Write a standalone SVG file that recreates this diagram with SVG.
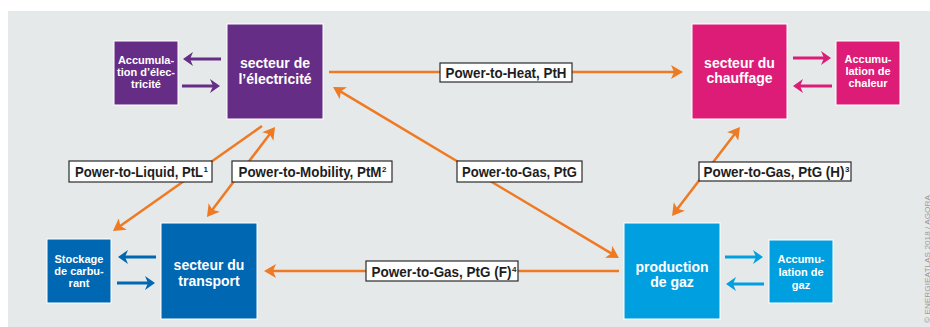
<svg xmlns="http://www.w3.org/2000/svg" width="930" height="327" viewBox="0 0 930 327">
<style>
.node{stroke:#fff;stroke-width:1}
.nt{font-family:"Liberation Sans",Arial,sans-serif;font-weight:bold;fill:#fff;text-anchor:middle}
.big{font-size:14px}
.small{font-size:11px}
.lbl rect{fill:#fff;stroke:#2a2a2a;stroke-width:1.2}
.lbl text{font-family:"Liberation Sans",Arial,sans-serif;font-weight:bold;font-size:15.5px;fill:#1e1e1e;text-anchor:middle}
.lbl text.sup{font-size:8px;text-anchor:start}
.o{stroke:#ef7a24;stroke-width:2.5;fill:none}
.sa{stroke-width:3;fill:none}
</style>
<defs>
<marker id="mo" viewBox="0 0 12 14" refX="4" refY="7" markerWidth="12" markerHeight="14" markerUnits="userSpaceOnUse" orient="auto-start-reverse"><path d="M0,0 L12,7 L0,14 L3,7 z" fill="#ef7a24"/></marker>
<marker id="mp" viewBox="0 0 10 14" refX="4" refY="7" markerWidth="10" markerHeight="14" markerUnits="userSpaceOnUse" orient="auto"><path d="M0,0 L10,7 L0,14 L3,7 z" fill="#662d86"/></marker>
<marker id="mm" viewBox="0 0 10 14" refX="4" refY="7" markerWidth="10" markerHeight="14" markerUnits="userSpaceOnUse" orient="auto"><path d="M0,0 L10,7 L0,14 L3,7 z" fill="#dc1c77"/></marker>
<marker id="mb" viewBox="0 0 10 14" refX="4" refY="7" markerWidth="10" markerHeight="14" markerUnits="userSpaceOnUse" orient="auto"><path d="M0,0 L10,7 L0,14 L3,7 z" fill="#0067b2"/></marker>
<marker id="mc" viewBox="0 0 10 14" refX="4" refY="7" markerWidth="10" markerHeight="14" markerUnits="userSpaceOnUse" orient="auto"><path d="M0,0 L10,7 L0,14 L3,7 z" fill="#009fe0"/></marker>
</defs>
<rect x="0" y="0" width="930" height="327" fill="#fff"/>
<rect x="8" y="11" width="922" height="316" fill="#e6e9ea"/>

<g id="connectors">
<line class="sa" stroke="#662d86" x1="221" y1="59" x2="189" y2="59" marker-end="url(#mp)"/>
<line class="sa" stroke="#662d86" x1="182" y1="86" x2="214" y2="86" marker-end="url(#mp)"/>
<line class="sa" stroke="#dc1c77" x1="793" y1="58" x2="825" y2="58" marker-end="url(#mm)"/>
<line class="sa" stroke="#dc1c77" x1="832" y1="86" x2="799" y2="86" marker-end="url(#mm)"/>
<line class="sa" stroke="#0067b2" x1="156" y1="257" x2="124" y2="257" marker-end="url(#mb)"/>
<line class="sa" stroke="#0067b2" x1="117" y1="283" x2="149" y2="283" marker-end="url(#mb)"/>
<line class="sa" stroke="#009fe0" x1="725" y1="257" x2="757" y2="257" marker-end="url(#mc)"/>
<line class="sa" stroke="#009fe0" x1="764" y1="284" x2="732" y2="284" marker-end="url(#mc)"/>

<line class="o" x1="329" y1="72" x2="675" y2="72" marker-end="url(#mo)"/>
<line class="o" x1="339.9" y1="91.1" x2="612.1" y2="253.9" marker-start="url(#mo)" marker-end="url(#mo)"/>
<line class="o" x1="262" y1="126" x2="119.5" y2="226.4" marker-end="url(#mo)"/>
<line class="o" x1="270.2" y1="133.4" x2="211.8" y2="210.6" marker-start="url(#mo)" marker-end="url(#mo)"/>
<line class="o" x1="619" y1="271" x2="272" y2="271" marker-end="url(#mo)"/>
<line class="o" x1="676.9" y1="209.6" x2="735.1" y2="133.4" marker-start="url(#mo)" marker-end="url(#mo)"/>
</g>

<g id="lbl-pth" class="lbl"><rect x="440" y="63" width="132" height="19"/><text x="506" y="78" textLength="121" lengthAdjust="spacingAndGlyphs">Power-to-Heat, PtH</text></g>
<g id="lbl-ptg" class="lbl"><rect x="457" y="161" width="125" height="21"/><text x="519.5" y="177" textLength="115" lengthAdjust="spacingAndGlyphs">Power-to-Gas, PtG</text></g>
<g id="lbl-ptl" class="lbl"><rect x="69" y="161" width="143" height="21"/><text x="139" y="177" textLength="128" lengthAdjust="spacingAndGlyphs">Power-to-Liquid, PtL</text><text class="sup" x="203.5" y="172">1</text></g>
<g id="lbl-ptm" class="lbl"><rect x="232" y="161" width="160" height="21"/><text x="310" y="177" textLength="143" lengthAdjust="spacingAndGlyphs">Power-to-Mobility, PtM</text><text class="sup" x="382" y="172">2</text></g>
<g id="lbl-ptgf" class="lbl"><rect x="366" y="261" width="152" height="20"/><text x="441.5" y="276.5" textLength="140" lengthAdjust="spacingAndGlyphs">Power-to-Gas, PtG (F)</text><text class="sup" x="512" y="271.5">4</text></g>
<g id="lbl-ptgh" class="lbl"><rect x="699" y="162" width="152" height="19"/><text x="774" y="177" textLength="141" lengthAdjust="spacingAndGlyphs">Power-to-Gas, PtG (H)</text><text class="sup" x="845" y="172">3</text></g>

<g id="electricite">
<rect class="node" x="227" y="24" width="96" height="95" fill="#662d86"/>
<text class="nt big" x="275" y="68">secteur de</text>
<text class="nt big" x="275" y="84">l’électricité</text>
</g>
<g id="accu-elec">
<rect class="node" x="114" y="41" width="64" height="64" fill="#662d86"/>
<text class="nt small" x="146" y="64">Accumula-</text>
<text class="nt small" x="146" y="76">tion d’élec-</text>
<text class="nt small" x="146" y="88">tricité</text>
</g>
<g id="chauffage">
<rect class="node" x="692" y="24" width="95" height="95" fill="#dc1c77"/>
<text class="nt big" x="739.5" y="68">secteur du</text>
<text class="nt big" x="739.5" y="83">chauffage</text>
</g>
<g id="accu-chaleur">
<rect class="node" x="836" y="41" width="64" height="64" fill="#dc1c77"/>
<text class="nt small" x="868" y="63">Accumu-</text>
<text class="nt small" x="868" y="75">lation de</text>
<text class="nt small" x="868" y="87">chaleur</text>
</g>
<g id="transport">
<rect class="node" x="161" y="223" width="96" height="96" fill="#0067b2"/>
<text class="nt big" x="209" y="270">secteur du</text>
<text class="nt big" x="209" y="286">transport</text>
</g>
<g id="stockage">
<rect class="node" x="47" y="239" width="64" height="64" fill="#0067b2"/>
<text class="nt small" x="79" y="263">Stockage</text>
<text class="nt small" x="79" y="275">de carbu-</text>
<text class="nt small" x="79" y="287">rant</text>
</g>
<g id="production">
<rect class="node" x="624" y="223" width="96" height="96" fill="#009fe0"/>
<text class="nt big" x="672" y="272">production</text>
<text class="nt big" x="672" y="287">de gaz</text>
</g>
<g id="accu-gaz">
<rect class="node" x="769" y="240" width="64" height="63" fill="#009fe0"/>
<text class="nt small" x="801" y="263">Accumu-</text>
<text class="nt small" x="801" y="276">lation de</text>
<text class="nt small" x="801" y="289">gaz</text>
</g>
<text transform="translate(929.5,323) rotate(-90)" font-family="Liberation Sans,Arial,sans-serif" font-size="7.5" fill="#9a9a9a" textLength="128" lengthAdjust="spacingAndGlyphs">© ENERGIEATLAS 2018 / AGORA</text>
</svg>
